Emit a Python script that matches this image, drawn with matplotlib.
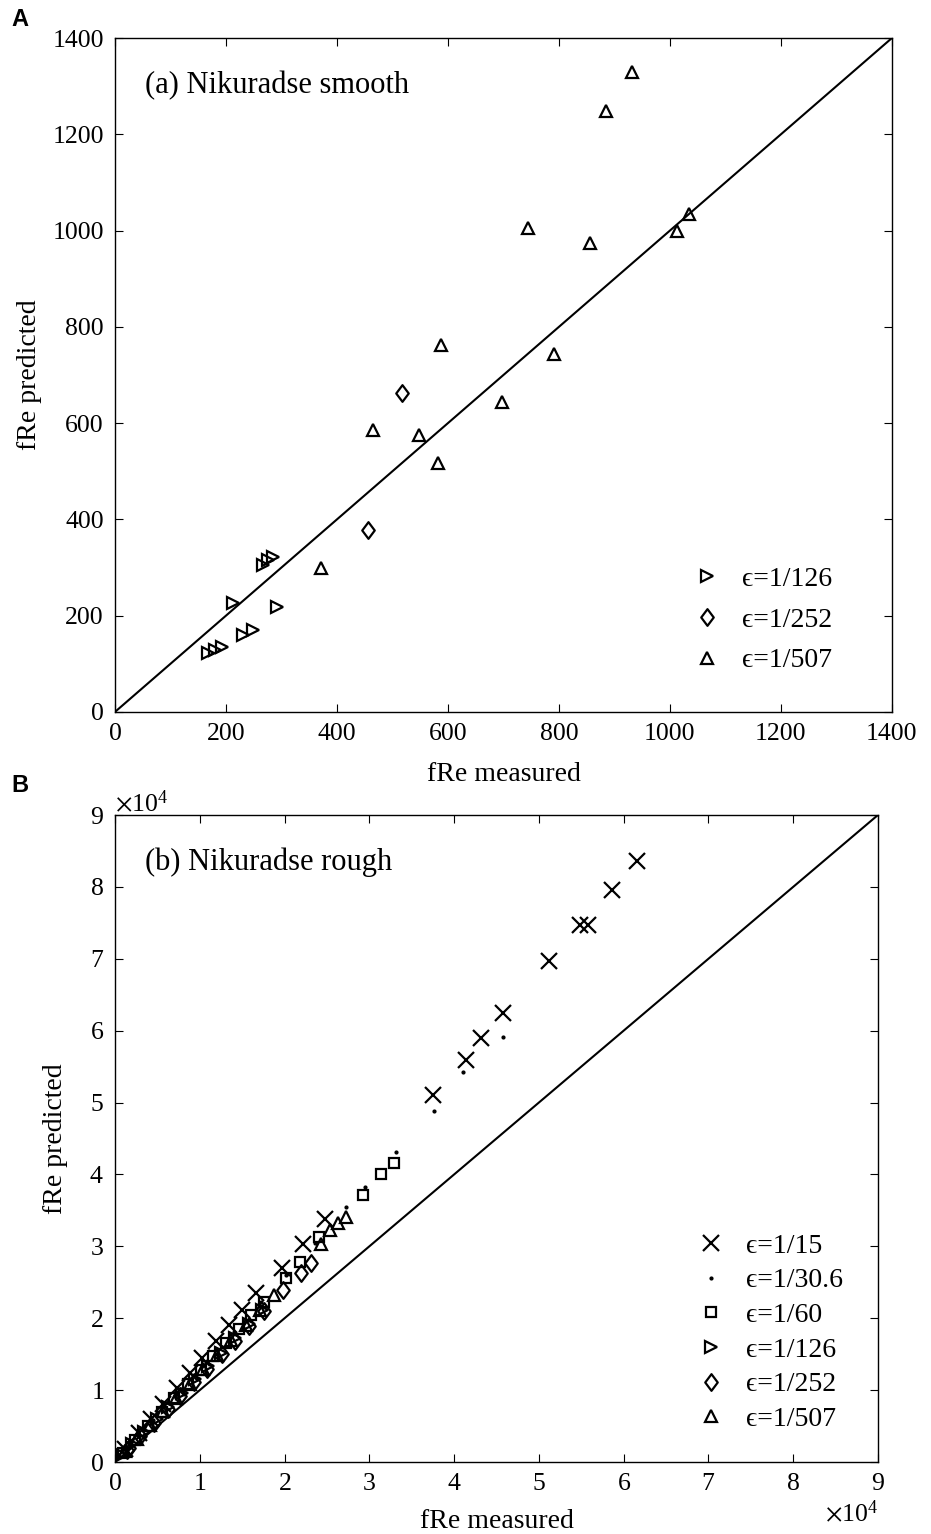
"""
Predicted vs measured fRe for the Nikuradse smooth and rough pipe data.
"""
from matplotlib import pyplot as plt
from matplotlib.path import Path
import numpy as np

plt.rcParams['font.family'] = ['Liberation Serif', 'DejaVu Serif']
plt.rcParams['mathtext.fontset'] = 'stix'

# ---- panel (a): smooth, measured / predicted
a126_x = [168, 180, 193, 231, 249, 212, 292, 267, 276, 285]
a126_y = [123, 129, 135, 160, 170, 226, 218, 305, 316, 322]
a252_x = [456, 517]
a252_y = [378, 663]
a507_x = [371, 465, 548, 582, 587, 697, 791, 744, 856, 884, 931, 1013, 1034]
a507_y = [299, 586, 575, 517, 762, 644, 744, 1005, 974, 1248, 1329, 999, 1034]

# ---- panel (b): rough, values in units of 1e4
b15_x = [0.12, 0.28, 0.42, 0.57, 0.73, 0.88, 1.03, 1.19, 1.35, 1.50, 1.66, 1.97, 2.22, 2.48,
         3.75, 4.14, 4.32, 4.58, 5.12, 5.48, 5.58, 5.86, 6.16]
b15_y = [0.18, 0.40, 0.60, 0.81, 1.03, 1.24, 1.45, 1.68, 1.90, 2.12, 2.35, 2.70, 3.03, 3.38,
         5.10, 5.59, 5.90, 6.24, 6.97, 7.47, 7.47, 7.96, 8.36]
b306_x = [0.18, 0.45, 0.78, 1.08, 1.40, 1.72, 2.02, 2.36, 2.72, 2.95, 3.31, 3.76, 4.10, 4.58]
b306_y = [0.23, 0.58, 1.01, 1.40, 1.81, 2.22, 2.60, 3.05, 3.55, 3.82, 4.31, 4.88, 5.42, 5.91]
b60_x = [0.10, 0.24, 0.39, 0.55, 0.70, 0.86, 1.01, 1.16, 1.31, 1.46, 1.61, 1.76, 2.02, 2.18,
         2.41, 2.93, 3.14, 3.29]
b60_y = [0.13, 0.30, 0.50, 0.70, 0.89, 1.09, 1.28, 1.47, 1.66, 1.85, 2.04, 2.23, 2.56, 2.78,
         3.13, 3.72, 4.01, 4.16]
b126_x = [0.08, 0.20, 0.34, 0.49, 0.63, 0.79, 0.94, 1.10, 1.25, 1.42, 1.58, 1.74]
b126_y = [0.10, 0.25, 0.42, 0.60, 0.77, 0.96, 1.15, 1.34, 1.52, 1.73, 1.92, 2.11]
b252_x = [0.14, 0.17, 0.30, 0.46, 0.62, 0.77, 0.93, 1.09, 1.26, 1.42, 1.58, 1.76, 1.98, 2.19, 2.31]
b252_y = [0.17, 0.20, 0.36, 0.55, 0.74, 0.92, 1.11, 1.30, 1.50, 1.69, 1.89, 2.10, 2.39, 2.63, 2.77]
b507_x = [0.12, 0.26, 0.41, 0.57, 0.72, 0.88, 1.04, 1.20, 1.37, 1.54, 1.71, 1.88, 2.43, 2.54,
          2.63, 2.73]
b507_y = [0.15, 0.32, 0.51, 0.71, 0.89, 1.09, 1.29, 1.49, 1.70, 1.91, 2.12, 2.33, 3.03, 3.23,
          3.32, 3.41]

EPS = '\u03f5'
# matlab-like diamond, a bit wider than matplotlib's 'd'
diamond = Path([(0, 1), (0.75, 0), (0, -1), (-0.75, 0), (0, 1)],
               [Path.MOVETO, Path.LINETO, Path.LINETO, Path.LINETO, Path.CLOSEPOLY])

mk = dict(linestyle='none', mfc='none', mec='black', mew=1.6)
TICK_FS = 18.5
LAB_FS = 20
LEG_FS = 20


def _style(ax):
    ax.tick_params(direction='in', top=True, right=True, length=6, labelsize=TICK_FS, pad=8)
    for s in ax.spines.values():
        s.set_linewidth(1.0)


fig = plt.figure(figsize=(9.31, 15.34), dpi=100)

# panel A
ax1 = fig.add_axes([0.1235, 0.5359, 0.8345, 0.4393])
ax1.plot([0, 1400], [0, 1400], 'k-', lw=1.5)
ax1.plot(a126_x, a126_y, marker='>', ms=9, label=EPS + '=1/126', **mk)
ax1.plot(a252_x, a252_y, marker=diamond, ms=12, label=EPS + '=1/252', **mk)
ax1.plot(a507_x, a507_y, marker='^', ms=9, label=EPS + '=1/507', **mk)
ax1.set_xlim(0, 1400)
ax1.set_ylim(0, 1400)
ax1.set_xticks(np.arange(0, 1401, 200))
ax1.set_yticks(np.arange(0, 1401, 200))
ax1.set_xlabel('fRe measured', fontsize=LAB_FS, labelpad=12)
ax1.set_ylabel('fRe predicted', fontsize=LAB_FS)
ax1.yaxis.set_label_coords(-0.094, 0.5)
ax1.text(0.039, 0.93, '(a) Nikuradse smooth', transform=ax1.transAxes, fontsize=22, va='center')
ax1.legend(loc='lower left', frameon=False, fontsize=LEG_FS, bbox_to_anchor=(0.712, 0.02),
           handletextpad=0.75, labelspacing=0.55, handlelength=1.0)
_style(ax1)

# panel B
ax2 = fig.add_axes([0.1235, 0.0469, 0.8195, 0.4218])
ax2.plot([0, 9e4], [0, 9e4], 'k-', lw=1.5)
sc = 1e4
ax2.plot(np.array(b15_x) * sc, np.array(b15_y) * sc, marker='x', ms=11, label=EPS + '=1/15', **mk)
ax2.plot(np.array(b306_x) * sc, np.array(b306_y) * sc, marker='.', ms=4, mfc='black',
         linestyle='none', mec='black', label=EPS + '=1/30.6')
ax2.plot(np.array(b60_x) * sc, np.array(b60_y) * sc, marker='s', ms=7, label=EPS + '=1/60', **mk)
ax2.plot(np.array(b126_x) * sc, np.array(b126_y) * sc, marker='>', ms=9, label=EPS + '=1/126', **mk)
ax2.plot(np.array(b252_x) * sc, np.array(b252_y) * sc, marker=diamond, ms=12, label=EPS + '=1/252', **mk)
ax2.plot(np.array(b507_x) * sc, np.array(b507_y) * sc, marker='^', ms=9, label=EPS + '=1/507', **mk)
ax2.set_xlim(0, 9e4)
ax2.set_ylim(0, 9e4)
ax2.set_xticks(np.arange(0, 9.1e4, 1e4))
ax2.set_yticks(np.arange(0, 9.1e4, 1e4))
ax2.ticklabel_format(style='sci', scilimits=(0, 0), useMathText=True)
ax2.xaxis.get_offset_text().set_fontsize(TICK_FS)
ax2.yaxis.get_offset_text().set_fontsize(TICK_FS)
ax2.set_xlabel('fRe measured', fontsize=LAB_FS, labelpad=10)
ax2.set_ylabel('fRe predicted', fontsize=LAB_FS)
ax2.yaxis.set_label_coords(-0.062, 0.5)
ax2.text(0.039, 0.927, '(b) Nikuradse rough', transform=ax2.transAxes, fontsize=22, va='center')
ax2.legend(loc='lower left', frameon=False, fontsize=LEG_FS, bbox_to_anchor=(0.73, 0.008),
           handletextpad=0.75, labelspacing=0.33, handlelength=1.0)
_style(ax2)

fig.text(0.012, 0.987, 'A', fontsize=17, fontweight='bold', family='Liberation Sans', va='center')
fig.text(0.012, 0.488, 'B', fontsize=17, fontweight='bold', family='Liberation Sans', va='center')

fig.savefig('out.png', dpi=100)
